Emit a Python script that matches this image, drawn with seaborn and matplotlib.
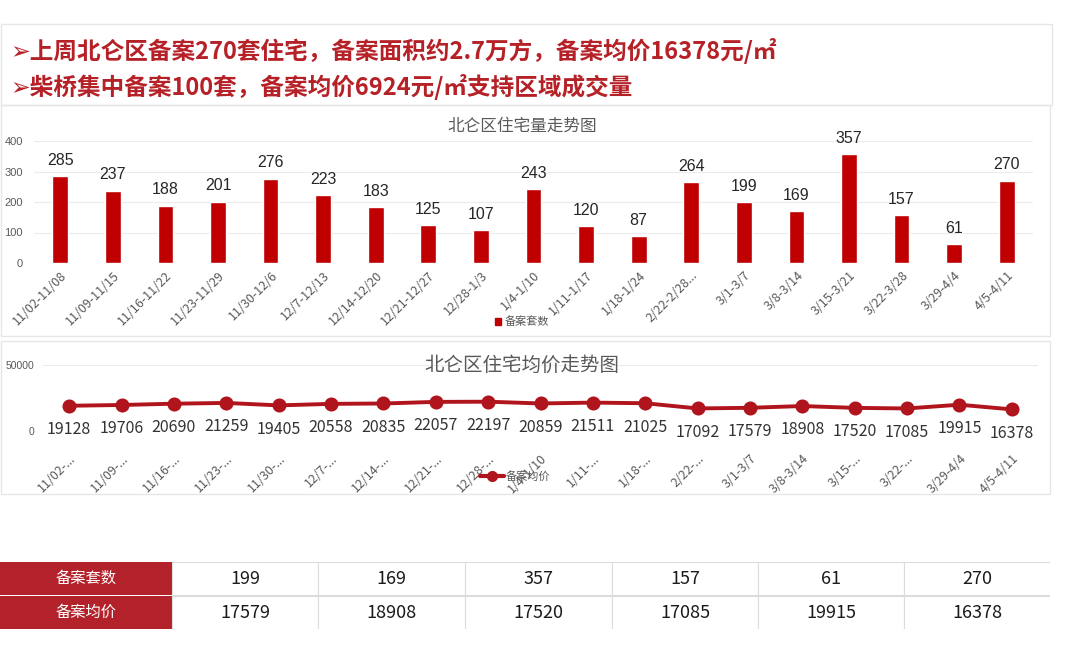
import matplotlib
matplotlib.use('Agg')
import matplotlib.pyplot as plt
import seaborn as sns
from matplotlib.patches import Rectangle
from matplotlib.lines import Line2D

# data
weeks = ['11/02-11/08', '11/09-11/15', '11/16-11/22', '11/23-11/29', '11/30-12/6',
         '12/7-12/13', '12/14-12/20', '12/21-12/27', '12/28-1/3', '1/4-1/10',
         '1/11-1/17', '1/18-1/24', '2/22-2/28...', '3/1-3/7', '3/8-3/14',
         '3/15-3/21', '3/22-3/28', '3/29-4/4', '4/5-4/11']
weeks_short = ['11/02-...', '11/09-...', '11/16-...', '11/23-...', '11/30-...',
               '12/7-...', '12/14-...', '12/21-...', '12/28-...', '1/4-1/10',
               '1/11-...', '1/18-...', '2/22-...', '3/1-3/7', '3/8-3/14',
               '3/15-...', '3/22-...', '3/29-4/4', '4/5-4/11']
counts = [285, 237, 188, 201, 276, 223, 183, 125, 107, 243, 120, 87, 264, 199,
          169, 357, 157, 61, 270]
prices = [19128, 19706, 20690, 21259, 19405, 20558, 20835, 22057, 22197, 20859,
          21511, 21025, 17092, 17579, 18908, 17520, 17085, 19915, 16378]
header_lines = ['➢上周北仑区备案270套住宅，备案面积约2.7万方，备案均价16378元/㎡',
                '➢柴桥集中备案100套，备案均价6924元/㎡支持区域成交量']
table_rows = ['备案套数', '备案均价']
n_table = 6

sns.set_style('white')
plt.rcParams['font.family'] = ['Noto Sans CJK SC', 'DejaVu Sans']
plt.rcParams['axes.unicode_minus'] = False

W, H = 1080, 649
fig = plt.figure(figsize=(W / 100, H / 100), dpi=100)
fig.patch.set_facecolor('white')


def px(l, t, r, b):
    return [l / W, 1 - b / H, (r - l) / W, (b - t) / H]


def fx(x):
    return x / W


def fy(y):
    return 1 - y / H


bar_red = '#c00000'
line_red = '#b0141c'
gray = '#595959'

# panel frames
for (l, t, r, b) in [(1, 24, 1052, 105), (1, 105, 1050, 336), (1, 341, 1050, 494)]:
    fig.patches.append(Rectangle((fx(l), fy(b)), (r - l) / W, (b - t) / H,
                                 transform=fig.transFigure, fill=False,
                                 edgecolor='#e6e6e6', lw=1))

# header text
for i, line in enumerate(header_lines):
    fig.text(fx(10), fy(51 + i * 36), line, color='#b52127', fontsize=17,
             fontweight='bold', va='center', ha='left',
             family=['Noto Sans CJK SC', 'DejaVu Sans'])

# bar chart
ax1 = fig.add_axes(px(34, 141, 1033, 263))
sns.barplot(x=weeks, y=counts, ax=ax1, color=bar_red, width=0.3, saturation=1)
ax1.set_ylim(0, 400)
ax1.set_yticks([0, 100, 200, 300, 400])
ax1.yaxis.grid(True, color='#ececec', lw=0.8)
ax1.set_axisbelow(True)
for s in ax1.spines.values():
    s.set_visible(False)
ax1.tick_params(axis='y', labelsize=8, colors=gray, length=0, pad=8)
ax1.tick_params(axis='x', labelsize=9, colors=gray, length=0, pad=4)
plt.setp(ax1.get_yticklabels(), family='Liberation Sans')
plt.setp(ax1.get_xticklabels(), rotation=45, ha='right', rotation_mode='anchor')
ax1.set_xlabel('')
ax1.set_ylabel('')
for i, v in enumerate(counts):
    ax1.annotate(str(v), (i, v), xytext=(0, 6), textcoords='offset points',
                 ha='center', va='bottom', fontsize=11.5, color='#262626',
                 family='Liberation Sans', annotation_clip=False)
fig.text(fx(522), fy(126), '北仑区住宅量走势图', ha='center', va='center',
         fontsize=12, color=gray)
ax1.legend(handles=[Rectangle((0, 0), 1, 1, color=bar_red)], labels=['备案套数'],
           loc='center', bbox_to_anchor=(fx(522), fy(322)), bbox_transform=fig.transFigure,
           frameon=False, fontsize=8, handlelength=0.6, handleheight=0.6,
           handletextpad=0.3, labelcolor=gray)

# line chart
ax2 = fig.add_axes(px(43, 365, 1038, 431))
sns.pointplot(x=weeks_short, y=prices, ax=ax2, color=line_red, markers='o',
              markersize=8, linewidth=2.8)
ax2.set_ylim(0, 50000)
ax2.set_yticks([0, 50000])
ax2.yaxis.grid(True, color='#ececec', lw=0.8)
ax2.set_axisbelow(True)
for s in ax2.spines.values():
    s.set_visible(False)
ax2.tick_params(axis='y', labelsize=7.5, colors=gray, length=0, pad=6)
ax2.tick_params(axis='x', labelsize=9, colors=gray, length=0, pad=15)
plt.setp(ax2.get_yticklabels(), family='Liberation Sans')
plt.setp(ax2.get_xticklabels(), rotation=45, ha='right', rotation_mode='anchor')
ax2.set_xlabel('')
ax2.set_ylabel('')
for i, v in enumerate(prices):
    ax2.annotate(str(v), (i, v), xytext=(0, -11), textcoords='offset points',
                 ha='center', va='top', fontsize=11.5, color='#333333',
                 annotation_clip=False)
fig.text(fx(522), fy(365), '北仑区住宅均价走势图', ha='center', va='center',
         fontsize=14, color=gray)
ax2.legend(handles=[Line2D([0], [0], color=line_red, lw=3, marker='o', markersize=7)],
           labels=['备案均价'], loc='center', bbox_to_anchor=(fx(515), fy(476)),
           bbox_transform=fig.transFigure, frameon=False, fontsize=8,
           handlelength=2.2, handletextpad=0.1, labelcolor=gray)

# summary table
ax3 = fig.add_axes(px(0, 562, 1050, 629))
ax3.set_xlim(0, 1050)
ax3.set_ylim(629, 562)
ax3.axis('off')
col_edges = [0, 172, 318, 465, 612, 758, 904, 1050]
row_edges = [(562, 595), (596, 629)]
table_vals = [counts[-n_table:], prices[-n_table:]]
for r, (t, b) in enumerate(row_edges):
    ax3.add_patch(Rectangle((0, t), 172, b - t, facecolor='#b3222a', edgecolor='none'))
    ax3.text(86, (t + b) / 2, table_rows[r], ha='center', va='center',
             fontsize=11, color='white')
    for c in range(n_table):
        l, rr = col_edges[c + 1], col_edges[c + 2]
        ax3.add_patch(Rectangle((l, t), rr - l, b - t, facecolor='white',
                                edgecolor='#dcdcdc', lw=0.8))
        ax3.text((l + rr) / 2, (t + b) / 2, str(table_vals[r][c]), ha='center',
                 va='center', fontsize=13, color='#1a1a1a')

fig.savefig('out.png', dpi=100)
